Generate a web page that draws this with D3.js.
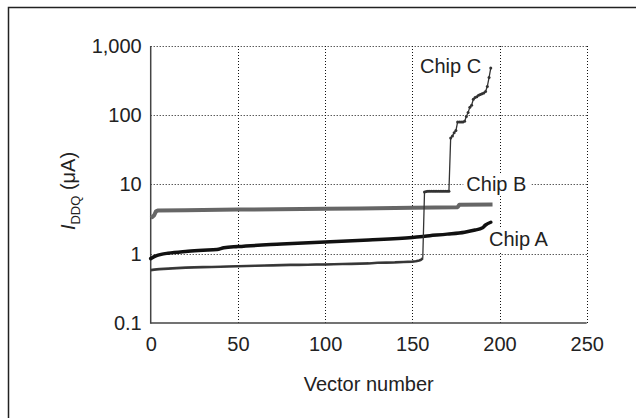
<!DOCTYPE html>
<html>
<head>
<meta charset="utf-8">
<script src="https://cdn.jsdelivr.net/npm/d3@7"></script>
<style>
  body { margin: 0; background: #fff; }
  text { font-family: "Liberation Sans", Arial, sans-serif; fill: #222; }
</style>
</head>
<body>
<svg id="chart" width="636" height="418"></svg>
<script>
// Chip A - thick black line
const chipAVec = [0, 3, 6, 10, 20, 30, 38, 42, 50, 75, 100, 125, 150, 160, 170, 180, 186, 190, 192, 195];
const chipAVal = [0.85, 0.93, 0.98, 1.02, 1.08, 1.12, 1.15, 1.22, 1.27, 1.38, 1.48, 1.58, 1.72, 1.82, 1.92, 2.05, 2.2, 2.35, 2.6, 2.85];

// Chip B - thick grey line
const chipBVec = [0, 1, 2, 3, 4, 20, 50, 100, 120, 150, 176, 177, 196];
const chipBVal = [3.3, 3.4, 3.6, 4.1, 4.2, 4.25, 4.35, 4.45, 4.5, 4.6, 4.7, 5.1, 5.15];

// Chip C - thin line with small markers
const chipCVec = [0, 2, 5, 10, 15, 20, 25, 30, 35, 40, 45, 50, 55, 60, 65, 70, 75, 80, 85, 90, 95, 100,
  105, 110, 115, 120, 125, 130, 135, 140, 145, 150, 152, 154, 155, 156,
  157, 158, 159, 160, 161, 162, 163, 164, 165, 166, 167, 168, 169, 170, 171,
  172, 173, 174, 175, 176, 177, 178, 179, 180, 181, 182, 183, 184, 185, 186, 187, 188, 189, 190,
  191, 192, 193, 194, 195];
const chipCVal = [0.58, 0.59, 0.6, 0.61, 0.62, 0.63, 0.635, 0.64, 0.645, 0.65, 0.655, 0.66, 0.665, 0.67, 0.675, 0.68, 0.685, 0.69, 0.69, 0.695, 0.7, 0.7,
  0.705, 0.71, 0.715, 0.72, 0.725, 0.74, 0.745, 0.75, 0.76, 0.77, 0.78, 0.8, 0.82, 0.86,
  7.8, 7.9, 8, 8, 8, 8, 8, 8, 8, 8, 8, 8, 8, 8, 8,
  47, 50, 56, 60, 80, 80, 80, 80, 82, 96, 110, 130, 140, 170, 180, 185, 195, 200, 205,
  210, 220, 260, 350, 480];

const xTicks = [0, 50, 100, 150, 200, 250];
const yTicks = [0.1, 1, 10, 100, 1000];

const svg = d3.select("#chart");

// outer frame
svg.append("rect")
  .attr("x", 8.5).attr("y", 7.5)
  .attr("width", 700).attr("height", 500)
  .attr("fill", "none").attr("stroke", "#222").attr("stroke-width", 1.5);

const plotLeft = 150.7, plotRight = 586.7, plotTop = 46, plotBottom = 323;

const x = d3.scaleLinear().domain([0, 250]).range([plotLeft, plotRight]);
const y = d3.scaleLog().domain([0.1, 1000]).range([plotBottom, plotTop]);

// grid
const grid = svg.append("g");
grid.selectAll("line.h")
  .data(yTicks.filter(d => d > 0.1))
  .join("line")
  .attr("x1", plotLeft).attr("x2", plotRight)
  .attr("y1", d => Math.round(y(d)) + 0.5).attr("y2", d => Math.round(y(d)) + 0.5)
  .attr("stroke", "#111").attr("stroke-width", 1).attr("stroke-dasharray", "1,2");
grid.selectAll("line.v")
  .data(xTicks.filter(d => d > 0))
  .join("line")
  .attr("x1", d => Math.round(x(d)) + 0.5).attr("x2", d => Math.round(x(d)) + 0.5)
  .attr("y1", plotTop).attr("y2", plotBottom)
  .attr("stroke", "#111").attr("stroke-width", 1).attr("stroke-dasharray", "1,2");

// axes (no tick marks, just lines and labels)
const xAxis = d3.axisBottom(x).tickValues(xTicks).tickSize(0).tickPadding(14);
const yAxis = d3.axisLeft(y).tickValues(yTicks).tickSize(0).tickPadding(9)
  .tickFormat(d => d >= 1000 ? d3.format(",")(d) : String(d));

const gx = svg.append("g").attr("transform", `translate(0,${plotBottom})`).call(xAxis);
const gy = svg.append("g").attr("transform", `translate(${plotLeft},0)`).call(yAxis);
[gx, gy].forEach(g => {
  g.select(".domain").remove();
  g.selectAll("text").attr("font-size", 20).attr("font-family", "Liberation Sans, Arial, sans-serif").attr("fill", "#222");
});

svg.append("line").attr("x1", plotLeft).attr("x2", plotLeft).attr("y1", plotTop).attr("y2", plotBottom + 0.75)
  .attr("stroke", "#444").attr("stroke-width", 1.5);
svg.append("line").attr("x1", plotLeft).attr("x2", plotRight).attr("y1", plotBottom).attr("y2", plotBottom)
  .attr("stroke", "#444").attr("stroke-width", 1.5);

// label knock-outs (white boxes behind the chip names)
const labels = [
  { name: "Chip C", vec: 154.4, val: 407 },
  { name: "Chip B", vec: 181, val: 8.05 },
  { name: "Chip A", vec: 194, val: 1.29 }
];
svg.selectAll("rect.lbl")
  .data(labels)
  .join("rect")
  .attr("x", d => x(d.vec) - 3).attr("y", d => y(d.val) - 17)
  .attr("width", 68).attr("height", 22)
  .attr("fill", "#fff");

const line = d3.line().x(d => x(d[0])).y(d => y(d[1]));

const seriesC = chipCVec.map((v, i) => [v, chipCVal[i]]);
const seriesA = chipAVec.map((v, i) => [v, chipAVal[i]]);
const seriesB = chipBVec.map((v, i) => [v, chipBVal[i]]);

svg.append("path").datum(seriesB).attr("d", line)
  .attr("fill", "none").attr("stroke", "#666").attr("stroke-width", 4).attr("stroke-linejoin", "round");
svg.append("path").datum(seriesA).attr("d", line.curve(d3.curveMonotoneX))
  .attr("fill", "none").attr("stroke", "#111").attr("stroke-width", 3.5).attr("stroke-linecap", "round").attr("stroke-linejoin", "round");
line.curve(d3.curveLinear);

// chip C: dense markers in the low section read as a heavier line
svg.append("path").datum(seriesC.filter(d => d[0] <= 156)).attr("d", line)
  .attr("fill", "none").attr("stroke", "#444").attr("stroke-width", 2.6).attr("stroke-linejoin", "round");
svg.append("path").datum(seriesC).attr("d", line)
  .attr("fill", "none").attr("stroke", "#333").attr("stroke-width", 1.3);
svg.selectAll("circle.c")
  .data(seriesC.filter(d => d[0] >= 157))
  .join("circle")
  .attr("cx", d => x(d[0])).attr("cy", d => y(d[1]))
  .attr("r", 1.5).attr("fill", "#333");

// chip names
svg.selectAll("text.lbl")
  .data(labels)
  .join("text")
  .attr("x", d => x(d.vec)).attr("y", d => y(d.val))
  .attr("font-size", 20)
  .text(d => d.name);

// axis titles
svg.append("text")
  .attr("x", (plotLeft + plotRight) / 2).attr("y", 391)
  .attr("text-anchor", "middle").attr("font-size", 20)
  .text("Vector number");

const yt = svg.append("text")
  .attr("transform", "translate(75,191) rotate(-90)")
  .attr("text-anchor", "middle").attr("font-size", 20);
yt.append("tspan").attr("font-style", "italic").text("I");
yt.append("tspan").attr("font-size", 13).attr("dy", 5).text("DDQ");
yt.append("tspan").attr("dy", -5).text(" (μA)");
</script>
</body>
</html>
